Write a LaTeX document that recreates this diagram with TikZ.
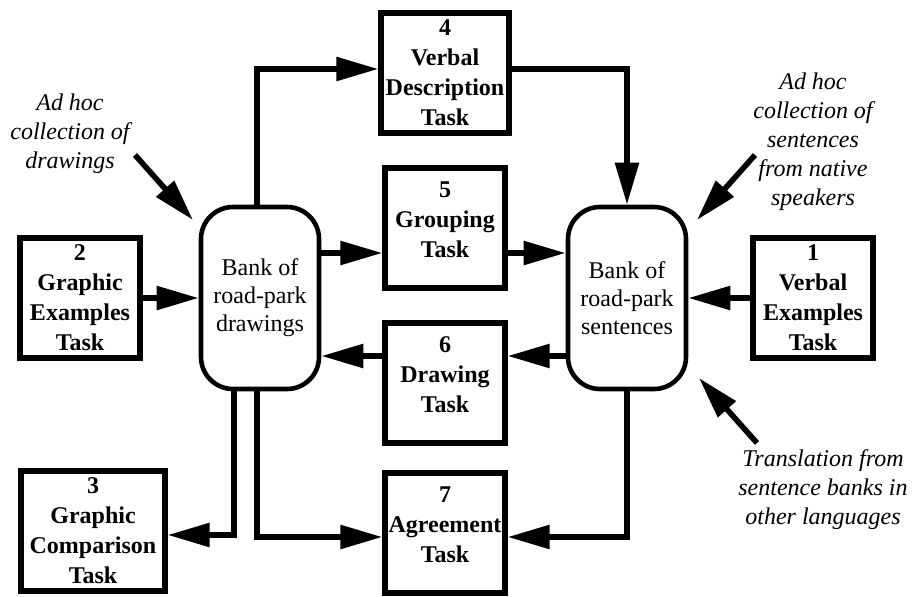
\documentclass[tikz,border=0pt]{standalone}
\usepackage{fontspec}
\setmainfont{Liberation Serif}
\usetikzlibrary{arrows.meta}

\begin{document}
\begin{tikzpicture}[x=1pt, y=1pt, node distance=90pt,
  task/.style={rectangle, draw, line width=2.6pt, minimum width=60pt, minimum height=60pt, align=center, inner sep=1pt, font=\fontsize{12}{15}\selectfont\bfseries},
  bank/.style={rectangle, rounded corners=16pt, draw, line width=2.3pt, minimum width=59pt, minimum height=91pt, align=center, font=\fontsize{12}{14}\selectfont},
  note/.style={align=center, font=\fontsize{12}{14.5}\selectfont\itshape},
  flow/.style={-{Triangle[length=21pt, width=11.5pt]}, line width=2.8pt},
  raised/.style={text depth=8pt}]

    \useasboundingbox (0,0) rectangle (456,-298);

    \node[bank] (lb) at (130,-149) {Bank of\\road-park\\drawings};
    \node[bank, right of=lb, node distance=183.5pt] (rb) {Bank of\\road-park\\sentences};
    \node[task, left of=lb, node distance=90pt] (t2) {2\\Graphic\\Examples\\Task};
    \node[task, right of=rb, node distance=93pt] (t1) {1\\Verbal\\Examples\\Task};
    \node[coordinate, right of=lb, node distance=92.5pt] (mid) {};
    \node[task, above of=mid, node distance=112.5pt, minimum width=64pt] (t4) {4\\Verbal\\Description\\Task};
    \node[task, raised, above of=mid, node distance=35pt] (t5) {5\\Grouping\\Task};
    \node[task, raised, below of=mid, node distance=42.5pt] (t6) {6\\Drawing\\Task};
    \node[task, raised, below of=mid, node distance=117.5pt] (t7) {7\\Agreement\\Task};
    \node[task, below of=t2, node distance=116.5pt, xshift=6.5pt, minimum width=72pt] (t3) {3\\Graphic\\Comparison\\Task};

    \node[note] (nl) at (35,-67) {Ad hoc\\collection of\\drawings};
    \node[note] (nr) at (406.5,-70.75) {Ad hoc\\collection of\\sentences\\from native\\speakers};
    \node[note] (nb) at (411.5,-245) {Translation from\\sentence banks in\\other languages};

    \coordinate (froml) at (67.5,-77.5);
    \coordinate (tol) at (96.5,-110);
    \coordinate (fromr) at (377.5,-77.5);
    \coordinate (tor) at (348.5,-110);
    \coordinate (fromb) at (378.5,-221.5);
    \coordinate (tob) at (349.5,-189);
    \coordinate (l5) at ([yshift=22.5pt]lb.east);
    \coordinate (r5) at ([yshift=22.5pt]rb.west);
    \coordinate (l6) at ([yshift=-29pt]lb.east);
    \coordinate (r6) at ([yshift=-29pt]rb.west);

    \draw[flow] ([xshift=-1.5pt]lb.north) |- ([yshift=2pt]t4.west);
    \draw[flow] ([yshift=2pt]t4.east) -| (rb.north);
    \draw[flow] (l5) -- (l5 -| t5.west);
    \draw[flow] (l5 -| t5.east) -- (r5);
    \draw[flow] (r6) -- (r6 -| t6.east);
    \draw[flow] (r6 -| t6.west) -- (l6);
    \draw[flow] (t2) -- (lb);
    \draw[flow] (t1) -- (rb);
    \draw[flow] ([xshift=-13pt]lb.south) |- ([yshift=-2pt]t3.east);
    \draw[flow] ([xshift=-1.5pt]lb.south) |- ([yshift=-2pt]t7.west);
    \draw[flow] (rb.south) |- ([yshift=-2pt]t7.east);
    \draw[flow] (froml) -- (tol);
    \draw[flow] (fromr) -- (tor);
    \draw[flow] (fromb) -- (tob);

\end{tikzpicture}
\end{document}
